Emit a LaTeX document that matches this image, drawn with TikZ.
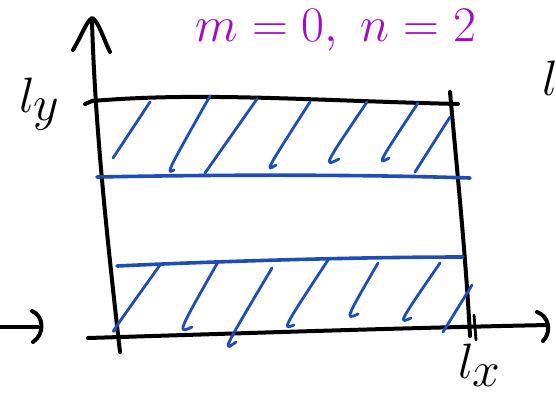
\documentclass[tikz,border=0pt]{standalone}
\definecolor{penblue}{HTML}{1E4DB4}
\definecolor{penpurple}{HTML}{A30BC6}
\begin{document}
\begin{tikzpicture}[x=0.5pt, y=-0.5pt,
		ink/.style={line width=2pt, line cap=round, line join=round},
		hatch/.style={draw=penblue, line width=1.4pt, line cap=round, line join=round},
		band/.style={draw=penblue, line width=1.8pt, line cap=round},
		handtext/.style={font=\fontsize{34}{38}\selectfont}]
		\useasboundingbox (0,0) rectangle (556,398);
		
		% axes
		\draw[ink] (120,352) .. controls (105,220) and (95,120) .. (92,22);
		\draw[ink] (73,50) .. controls (82,35) and (86,22) .. (92,18) .. controls (98,20) and (104,40) .. (110,52);
		\draw[ink] (88,338) .. controls (250,333) and (400,328) .. (548,325);
		\draw[ink] (537,312) .. controls (549,316) and (552,332) .. (543,341);
		\draw[ink] (0,327) -- (38,327);
		\draw[ink] (32,311) .. controls (44,316) and (45,334) .. (33,342);
		
		% box
		\draw[ink] (85,104) -- (92,101) .. controls (200,92) and (300,100) .. (458,104);
		\draw[ink] (450,92) .. controls (458,180) and (466,260) .. (470,336);
		\draw[ink, line width=1.4pt] (474,315) -- (476,340);
		
		% band edges
		\draw[band] (97,177) .. controls (250,174) and (380,175) .. (470,178);
		\draw[band] (117,266) .. controls (200,262) and (350,257) .. (463,257);
		
		% hatching
		\foreach \hx/\hy/\bx/\by/\tx/\ty in {
			113/158/113/158/150/102, 174/170/166/174/210/96, 205/173/205/173/257/99,
			276/165/265/172/310/102, 339/159/323/167/367/102, 389/158/377/165/418/103,
			415/172/415/172/450/117,
			116/329/110/335/160/265, 192/327/177/334/218/262, 236/342/222/352/272/268,
			294/325/282/330/328/260, 358/314/345/320/378/263, 411/318/398/324/440/263,
			443/332/443/332/472/285}
			\draw[hatch] (\tx,\ty) .. controls (\bx,\by) and (\bx,\by) .. (\hx,\hy);
		
		% labels
		\node[handtext] (ly) at (40,104) {$l_y$};
		\node[handtext] (lx) at (480,365) {$l_x$};
		\node[handtext] (lcut) at (550,78) {$l$};
		\node[handtext, font=\fontsize{24}{28}\selectfont, text=penpurple] (title) at (336,30) {$m=0,\ n=2$};
	\end{tikzpicture}
\end{document}
